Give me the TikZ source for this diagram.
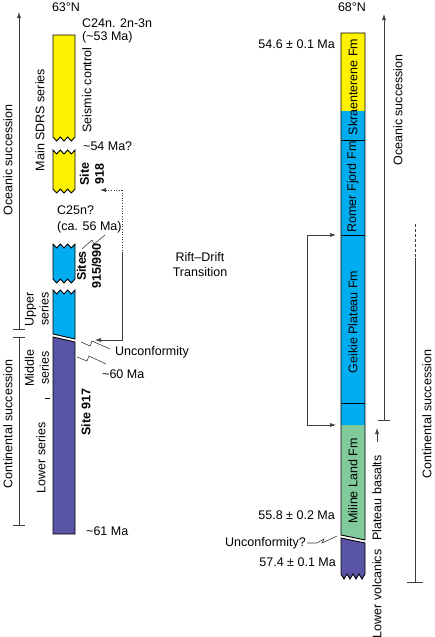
\documentclass[tikz,border=0pt]{standalone}
\usepackage{fontspec}
\setmainfont{Liberation Sans}
\usepackage{tikz}
\usetikzlibrary{arrows.meta, positioning, calc}
\definecolor{sdrsyellow}{RGB}{255,242,0}
\definecolor{lavacyan}{RGB}{0,174,239}
\definecolor{lowpurple}{RGB}{90,84,166}
\definecolor{milgreen}{RGB}{128,202,156}
\definecolor{inkgray}{RGB}{60,60,60}
\tikzset{
    unit/.style  ={draw=black, line width=0.9pt},
    lbl/.style   ={font=\fontsize{12.5}{15}\selectfont, inner sep=1pt},
    vlbl/.style  ={lbl, rotate=90, align=center},
    site/.style  ={vlbl, font=\fontsize{12.5}{15}\selectfont\bfseries},
    axis/.style  ={draw=inkgray, line width=0.6pt},
    ar/.style    ={-{Latex[length=6pt, width=4pt]}, line width=0.6pt, draw=inkgray},
    brk/.style   ={line width=0.6pt, draw=inkgray}
}
% zigzag edges of broken sections
\newcommand{\zigback}[1]{-- (71.33,#1+4) -- (67.67,#1) -- (64,#1+4) -- (60.33,#1) -- (56.67,#1+4) -- (53,#1)}
\newcommand{\zigfore}[1]{-- (56.67,#1+4) -- (60.33,#1) -- (64,#1+4) -- (67.67,#1) -- (71.33,#1+4) -- (75,#1)}
\newcommand{\zigright}[1]{-- (362,#1+5) -- (359,#1) -- (356,#1+5) -- (353,#1) -- (350,#1+5) -- (347,#1) -- (344,#1+5) -- (341,#1)}

\begin{document}
\begin{tikzpicture}[x=1pt, y=-1pt]
  \useasboundingbox (0,0) rectangle (435,637);

  % 63N section
  \draw[unit, fill=sdrsyellow] (53,35) -- (75,35) -- (75,137) \zigback{137} -- cycle;
  \draw[unit, fill=sdrsyellow] (53,150) \zigfore{150} -- (75,189) \zigback{189} -- cycle;
  \draw[unit, fill=lavacyan] (53,244) \zigfore{244} -- (75,279) \zigback{279} -- cycle;
  \draw[unit, fill=lavacyan] (53,290) \zigfore{290} -- (75,339) -- (53,334) -- cycle;
  \draw[unit, fill=lowpurple] (53,337) -- (75,342) -- (75,534) -- (53,534) -- cycle;

  % 68N section
  \fill[sdrsyellow] (341,33) rectangle (365,111);
  \fill[lavacyan] (341,111) rectangle (365,425);
  \fill[milgreen] (341,425) -- (365,425) -- (365,540) -- (341,535) -- cycle;
  \draw[unit] (341,33) -- (365,33) -- (365,540) -- (341,535) -- cycle;
  \draw[unit] (341,140) -- (365,140);
  \draw[unit] (341,235) -- (365,235);
  \draw[unit] (341,403) -- (365,403);
  \draw[unit, fill=lowpurple] (341,538) -- (365,543) -- (365,574) \zigright{574} -- cycle;

  % headings
  \node[lbl] (lat63) at (66,7) {63°N};
  \node[lbl] (lat68) at (352,7) {68°N};

  % left labels
  \node[vlbl] (oceL) at (8,160) {Oceanic succession};
  \node[vlbl] (conL) at (8,424) {Continental succession};
  \node[vlbl] (sdrs) at (40,120) {Main SDRS series};
  \node[vlbl] (upper) at (37,309) {Upper\\series};
  \node[vlbl] (middle) at (37,368) {Middle\\series};
  \node[vlbl] (lower) at (41,458) {Lower series};
  \node[vlbl] (seis) at (87,90) {Seismic control};
  \node[site] (s918) at (92,174) {Site\\918};
  \node[site] (s915) at (89,266) {Sites\\915/990};
  \node[site] (s917) at (86,412) {Site 917};
  \node[lbl, anchor=west] (c24) at (81,23) {C24n. 2n-3n};
  \node[lbl, anchor=west] (ma53) at (81,37) {(\textasciitilde53 Ma)};
  \node[lbl, anchor=west] (ma54) at (82,146) {\textasciitilde54 Ma?};
  \node[lbl, anchor=west] (c25) at (56,210) {C25n?};
  \node[lbl, anchor=west] (ma56) at (56,227) {(ca. 56 Ma)};
  \node[lbl, anchor=west] (uncL) at (114,352) {Unconformity};
  \node[lbl, anchor=west] (ma60) at (101,374) {\textasciitilde60 Ma};
  \node[lbl, anchor=west] (ma61) at (85,531) {\textasciitilde61 Ma};
  \node[lbl, align=center] (rdt) at (200,265) {Rift–Drift\\Transition};
  \draw[line width=0.6pt] (45,398) -- (50,398);

  % right labels
  \node[vlbl] (skr) at (353,87) {Skraenterene Fm};
  \node[vlbl] (rom) at (353,187) {Romer Fjord Fm};
  \node[vlbl] (gei) at (353,322) {Geikie Plateau Fm};
  \node[vlbl] (mil) at (353,481) {Miline Land Fm};
  \node[vlbl] (oceR) at (398,110) {Oceanic succession};
  \node[vlbl] (conR) at (427,414) {Continental succession};
  \node[vlbl] (plb) at (377,498) {Plateau basalts};
  \node[vlbl] (lowv) at (377,594) {Lower volcanics};
  \node[lbl, anchor=east] (ma546) at (336,44) {54.6 ± 0.1 Ma};
  \node[lbl, anchor=east] (ma558) at (336,515) {55.8 ± 0.2 Ma};
  \node[lbl, anchor=east] (uncR) at (307,543) {Unconformity?};
  \node[lbl, anchor=east] (ma574) at (337,562) {57.4 ± 0.1 Ma};

  % succession axes
  \coordinate (oceLbot) at (19,330);
  \coordinate (oceLtop) at (19,12);
  \draw[axis, {Bar[width=12pt]}-{Latex[length=6pt, width=4pt]}] (oceLbot) -- (oceLtop);
  \coordinate (conLtop) at (19,337);
  \coordinate (conLbot) at (19,526);
  \draw[axis, {Bar[width=12pt]}-{Bar[width=12pt]}] (conLtop) -- (conLbot);
  \coordinate (oceRbot) at (384,421);
  \coordinate (oceRtop) at (384,14);
  \draw[axis, {Bar[width=12pt]}-{Latex[length=6pt, width=4pt]}] (oceRbot) -- (oceRtop);
  \coordinate (conRdash) at (415,224);
  \coordinate (conRtop) at (415,258);
  \coordinate (conRbot) at (415,583);
  \draw[axis, dash pattern=on 3pt off 2pt] (conRdash) -- (conRtop);
  \draw[axis, -{Bar[width=16pt]}] (conRtop) -- (conRbot);
  \coordinate (plbtip) at (377,428);
  \draw[ar] ($(plb.east)+(0,-12)$) -- (plbtip);

  % rift-drift brackets
  \coordinate (sdrsin) at (100,190);
  \coordinate (rdLtop) at (122,190);
  \coordinate (rdLmid) at (122,252);
  \coordinate (rdLbot) at (122,340);
  \coordinate (uncin) at (95,340);
  \draw[ar, dotted] (rdLtop) -- (sdrsin);
  \draw[brk, dotted] (rdLtop) -- (rdLmid);
  \draw[ar] (rdLmid) -- (rdLbot) -- (uncin);
  \coordinate (rdRtop) at (307,235);
  \coordinate (rdRbot) at (307,425);
  \coordinate (romin) at (336,235);
  \coordinate (milin) at (336,425);
  \draw[ar] (rdRtop) -- (romin);
  \draw[ar] (rdRtop) -- (rdRbot) -- (milin);

  % break symbols
  \draw[brk] (105,235) -- (94,244) -- (92,240) -- (82,249);
  \draw[brk] (81,342) -- (90,346) -- (92,341) -- (110,349);
  \draw[brk] (77,357) -- (87,361) -- (89,356) -- (106,364);
  \draw[brk] (uncR.east) -- (317,543) -- (324,539) -- (322,543) -- (337,536);
\end{tikzpicture}
\end{document}
